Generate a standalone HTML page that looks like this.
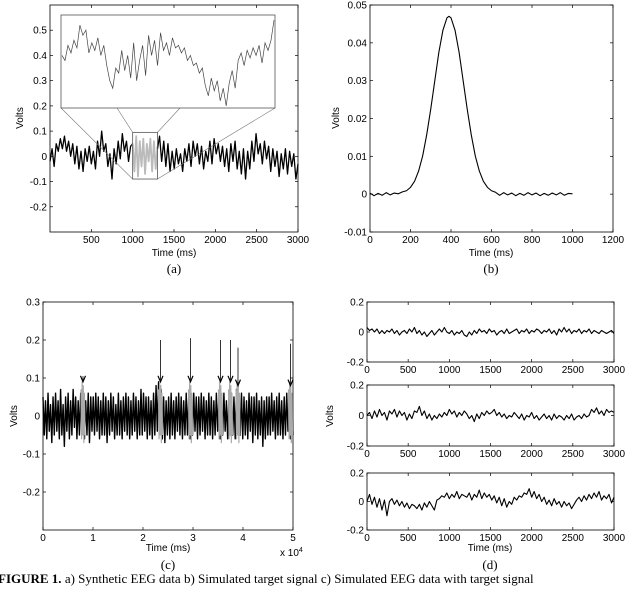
<!DOCTYPE html>
<html><head><meta charset="utf-8"><style>
html,body{margin:0;padding:0;background:#fff}
svg{display:block}
text{font-family:"Liberation Sans",sans-serif;font-size:10px;fill:#000}
.cap{font-family:"Liberation Serif",serif;font-size:13px}
</style></head><body>
<svg id="fig" width="640" height="591" viewBox="0 0 640 591" xmlns="http://www.w3.org/2000/svg">
<text class="cap" x="-2" y="583"><tspan font-weight="bold">FIGURE 1.</tspan> a)  Synthetic EEG data b) Simulated target signal c) Simulated EEG data with target signal</text>
</svg>
<script>
// ---- data ----
const aBlack1 = [-0.02,0.03,-0.04,0.05,0.02,0.07,0.03,0.08,0.02,0.06,0.0,0.05,-0.03,0.04,-0.05,0.02,-0.06,0.03,-0.02,0.04,-0.03,0.02,-0.05,0.06,0.0,0.1,0.02,0.05,-0.04,0.01,-0.09,0.03,-0.03,0.06,-0.01,0.09,0.02,0.06,-0.02,0.04,0.05];
const aGray = [0.05,-0.06,0.08,-0.08,0.06,-0.04,0.07,-0.07,0.05,-0.02,0.07,-0.06,0.06,-0.05,0.04];
const aBlack2 = [0.03,0.08,-0.02,0.06,-0.04,0.05,-0.06,0.02,-0.05,0.03,-0.03,0.01,-0.06,0.03,-0.02,0.05,-0.04,0.06,0.0,0.05,-0.03,0.04,-0.05,0.02,-0.02,0.06,-0.03,0.07,0.01,0.05,-0.02,0.04,-0.04,0.03,-0.06,0.05,-0.02,0.06,-0.05,0.02,-0.07,0.03,-0.09,0.02,-0.05,0.06,-0.02,0.09,0.01,0.05,-0.03,0.06,-0.01,0.04,-0.06,0.03,-0.04,0.02,-0.08,0.01,-0.05,0.03,-0.07,0.02,-0.04,0.01,-0.09,-0.03];
const aInset = [0.4,0.38,0.44,0.41,0.46,0.43,0.52,0.48,0.5,0.41,0.45,0.42,0.47,0.4,0.44,0.36,0.3,0.27,0.35,0.33,0.42,0.34,0.4,0.31,0.45,0.3,0.38,0.44,0.32,0.48,0.4,0.46,0.36,0.49,0.42,0.45,0.4,0.47,0.43,0.44,0.41,0.43,0.38,0.4,0.36,0.37,0.33,0.35,0.28,0.24,0.31,0.26,0.3,0.22,0.27,0.2,0.29,0.34,0.27,0.38,0.41,0.36,0.42,0.39,0.43,0.4,0.44,0.37,0.45,0.42,0.46,0.54];
const aXTicks = [500,1000,1500,2000,2500,3000];
const aYTicks = [-0.2,-0.1,0,0.1,0.2,0.3,0.4,0.5];

const bT = [0,20,40,60,80,100,120,140,160,180,200,220,240,260,280,300,320,340,360,380,390,400,420,440,460,480,500,520,540,560,580,600,620,640,660,680,700,720,740,760,780,800,820,840,860,880,900,920,940,960,980,1000];
const bV = [0.0003,-0.0004,0.0002,-0.0003,0.0004,-0.0002,0.0003,0.0001,0.0006,0.0009,0.0018,0.0034,0.0061,0.0101,0.0157,0.0225,0.030,0.0375,0.0433,0.0466,0.047,0.0466,0.0433,0.0375,0.030,0.0225,0.0157,0.0101,0.0061,0.0034,0.0018,0.0009,0.0005,-0.0003,0.0004,-0.0002,0.0003,-0.0004,0.0002,-0.0003,0.0004,-0.0002,0.0003,-0.0004,0.0002,-0.0003,0.0003,-0.0002,0.0004,-0.0003,0.0002,0.0001];
const bXTicks = [0,200,400,600,800,1000,1200];
const bYTicks = [-0.01,0,0.01,0.02,0.03,0.04,0.05];

const cVals = [0.05,-0.05,0.04,-0.06,0.06,-0.04,0.03,-0.07,0.05,-0.05,0.06,-0.04,0.04,-0.06,0.07,-0.05,0.03,-0.08,0.05,-0.04,0.06,-0.06,0.04,-0.05,0.07,-0.03,0.05,-0.06,0.04,-0.05,0.06,-0.04,0.05,-0.06,0.04,-0.05,0.06,-0.07,0.05,-0.04,0.05,-0.05,0.06,-0.04,0.05,-0.06,0.04,-0.05,0.06,-0.05,0.05,-0.07,0.04,-0.05,0.06,-0.04,0.05,-0.06,0.03,-0.05,0.06,-0.05,0.04,-0.06,0.05,-0.04,0.06,-0.05,0.05,-0.06,0.04,-0.05,0.06,-0.04,0.05,-0.06,0.04,-0.05,0.07,-0.05,0.06,-0.04,0.05,-0.06,0.05,-0.05,0.04,-0.06,0.06,-0.05,0.08,-0.04,0.09,-0.03,0.07,-0.06,0.05,-0.07,0.04,-0.05,0.05,-0.06,0.06,-0.05,0.04,-0.06,0.05,-0.04,0.06,-0.05,0.05,-0.06,0.04,-0.05,0.06,-0.05,0.05,-0.06,0.04,-0.05,0.06,-0.04,0.05,-0.06,0.05,-0.05,0.06,-0.04,0.05,-0.06,0.04,-0.05,0.06,-0.05,0.05,-0.06,0.04,-0.05,0.06,-0.04,0.05,-0.06,0.05,-0.05,0.06,-0.04,0.04,-0.06,0.05,-0.05,0.06,-0.05,0.05,-0.06,0.07,-0.04,0.05,-0.05,0.06,-0.06,0.05,-0.05,0.04,-0.06,0.06,-0.04,0.05,-0.07,0.05,-0.05,0.06,-0.06,0.04,-0.05,0.05,-0.08,0.04,-0.06,0.05,-0.05,0.05,-0.05,0.06,-0.04,0.04,-0.06,0.05,-0.05,0.06,-0.05,0.04,-0.06,0.05,-0.05,0.06,-0.04,0.05,-0.06,0.04,-0.05];
const cGrayPos = [0.8,2.35,2.95,3.55,3.75,3.9,4.95];
const cGrayVals = [0.07,-0.06,0.09,-0.05,0.08,-0.07,0.06,-0.05];
const cArrowTop = [0.105,0.2,0.205,0.2,0.2,0.18,0.19];
const cArrowTip = [0.09,0.09,0.09,0.09,0.09,0.08,0.08];
const cXTicks = [0,1,2,3,4,5];
const cYTicks = [-0.2,-0.1,0,0.1,0.2,0.3];

const d1 = [0.03,0.01,0.02,0.0,0.02,-0.01,0.01,-0.01,0.01,0.0,0.02,-0.01,0.01,-0.02,0.0,0.01,-0.01,0.02,0.0,0.03,-0.01,0.01,-0.02,0.0,-0.03,-0.01,0.01,-0.02,0.0,0.02,0.0,0.03,0.0,-0.01,0.01,-0.02,0.0,-0.01,0.01,-0.02,-0.03,0.0,-0.02,0.01,-0.01,0.02,0.0,0.01,-0.01,0.02,0.0,0.01,-0.02,0.0,0.01,-0.01,0.02,-0.01,0.0,0.01,0.02,-0.01,0.01,0.0,0.02,-0.01,0.01,0.0,0.02,0.01,-0.01,0.01,0.0,0.02,-0.01,0.01,-0.02,0.02,0.0,0.03,0.0,0.02,-0.01,0.01,0.0,0.02,-0.01,0.01,0.0,0.02,-0.01,0.01,0.0,-0.01,0.01,0.0,-0.01,0.0,0.01,-0.01];
const d2 = [0.0,0.02,-0.02,0.03,-0.01,0.04,0.0,0.02,-0.03,0.03,0.01,0.04,-0.01,0.03,0.0,0.02,-0.03,0.01,-0.02,0.03,0.02,0.06,0.0,0.03,-0.02,0.01,-0.03,0.0,-0.02,0.01,-0.01,0.02,0.0,0.04,0.01,0.03,-0.01,0.02,0.0,0.03,0.01,-0.02,0.0,-0.04,0.01,-0.02,0.02,0.0,0.03,0.01,0.02,0.04,0.0,0.02,-0.01,0.01,-0.02,0.0,-0.01,0.02,0.0,-0.02,0.01,-0.03,0.0,-0.01,0.02,-0.02,0.0,-0.03,-0.01,0.01,-0.02,0.0,-0.03,0.01,-0.02,0.0,-0.01,-0.03,0.0,-0.02,0.01,-0.03,-0.01,0.0,-0.02,0.01,-0.01,0.0,0.04,0.02,0.05,0.01,0.03,0.0,0.04,0.02,0.03,0.02];
const d3 = [0.0,0.05,-0.02,0.03,-0.04,0.02,-0.06,0.01,-0.1,0.0,0.02,-0.02,0.01,-0.03,0.0,-0.04,-0.01,-0.05,-0.02,-0.03,-0.05,-0.02,-0.06,-0.01,-0.04,0.0,-0.03,-0.06,0.01,0.02,0.04,0.03,0.06,0.02,0.05,0.03,0.07,0.02,0.05,0.04,0.03,0.06,0.01,0.05,0.03,0.08,0.02,0.06,0.03,0.05,0.01,0.04,-0.01,0.03,-0.03,0.02,-0.04,0.0,-0.02,0.03,0.01,0.04,0.03,0.06,0.05,0.09,0.03,0.07,0.02,0.05,0.0,0.03,-0.02,0.01,-0.03,0.02,-0.02,0.0,-0.04,0.0,-0.03,-0.01,-0.05,-0.02,0.01,0.03,0.0,0.04,0.01,0.05,0.02,0.06,0.03,0.07,0.01,0.04,0.02,0.05,-0.01,0.03];
const dXTicks = [0,500,1000,1500,2000,2500,3000];
const dYTicks = [-0.2,0,0.2];

// ---- helpers ----
const NS = "http://www.w3.org/2000/svg";
const svg = document.getElementById('fig');
function el(tag, attrs, parent) {
  const e = document.createElementNS(NS, tag);
  for (const k in attrs) e.setAttribute(k, attrs[k]);
  (parent || svg).appendChild(e);
  return e;
}
function scale(d0, d1, r0, r1) { return v => r0 + (v - d0) / (d1 - d0) * (r1 - r0); }
function fmt(v) { return String(Math.round(v * 1000) / 1000); }
function axes(name, box, xd, yd, xt, yt, opts) {
  const g = el('g', {});
  
  
  const sx = scale(xd[0], xd[1], box.x0, box.x1), sy = scale(yd[0], yd[1], box.y1, box.y0);
  const fr = el('rect', {x: box.x0, y: box.y0, width: box.x1 - box.x0, height: box.y1 - box.y0, fill: 'none', stroke: '#000', 'stroke-width': 0.8}, g);
  
  
  xt.forEach(v => {
    const x = sx(v);
    el('line', {x1: x, x2: x, y1: box.y1, y2: box.y1 - 3, stroke: '#000', 'stroke-width': 0.7}, g);
    el('line', {x1: x, x2: x, y1: box.y0, y2: box.y0 + 3, stroke: '#000', 'stroke-width': 0.7}, g);
    const t = el('text', {x: x, y: box.y1 + 11, 'text-anchor': 'middle'}, g);
    t.textContent = fmt(v);
    
    
  });
  yt.forEach(v => {
    const y = sy(v);
    el('line', {x1: box.x0, x2: box.x0 + 3, y1: y, y2: y, stroke: '#000', 'stroke-width': 0.7}, g);
    el('line', {x1: box.x1, x2: box.x1 - 3, y1: y, y2: y, stroke: '#000', 'stroke-width': 0.7}, g);
    const t = el('text', {x: box.x0 - 3, y: y + 3.5, 'text-anchor': 'end'}, g);
    t.textContent = fmt(v);
    
    
  });
  return {sx, sy, g};
}
function line(ax, xs, ys, color, name, w) {
  const pts = xs.map((x, i) => ax.sx(x).toFixed(2) + ',' + ax.sy(ys[i]).toFixed(2)).join(' ');
  const p = el('polyline', {points: pts, fill: 'none', stroke: color, 'stroke-width': w || 0.9, 'stroke-linejoin': 'round'}, ax.g);
  
  
  return p;
}
function span(a, b, n) { return Array.from({length: n}, (_, i) => a + (b - a) * i / (n - 1)); }
function label(txt, x, y, name, cls, rot) {
  const t = el('text', {x: x, y: y, 'text-anchor': 'middle'});
  if (cls) t.setAttribute('class', cls);
  if (rot) t.setAttribute('transform', 'rotate(-90 ' + x + ' ' + y + ')');
  t.textContent = txt;
  
  
  return t;
}

// ---- panel a ----
const A = axes('panel-a', {x0: 50, x1: 298, y0: 5, y1: 232}, [0, 3000], [-0.3, 0.6], aXTicks, aYTicks, {});
line(A, span(0, 1000, aBlack1.length), aBlack1, '#000', 'eeg-signal-part1', 1.3);
line(A, span(1000, 1300, aGray.length), aGray, '#bbb', 'target-segment', 1.8);
line(A, span(1300, 3000, aBlack2.length), aBlack2, '#000', 'eeg-signal-part2', 1.3);
const zb = {x0: A.sx(1000), x1: A.sx(1300), y0: A.sy(0.095), y1: A.sy(-0.09)};
const ins = {x0: 61, x1: 275, y0: 15, y1: 108};
[[ins.x0, ins.y1, zb.x0, zb.y1], [117, ins.y1, zb.x0, zb.y0], [180, ins.y1, zb.x1, zb.y0], [ins.x1, ins.y1, zb.x1, zb.y1]].forEach(c => {
  const l = el('line', {x1: c[0], y1: c[1], x2: c[2], y2: c[3], stroke: '#777', 'stroke-width': 0.6}, A.g);
  
  
});
const zr = el('rect', {x: zb.x0, y: zb.y0, width: zb.x1 - zb.x0, height: zb.y1 - zb.y0, fill: 'none', stroke: '#555', 'stroke-width': 0.8}, A.g);


const ir = el('rect', {x: ins.x0, y: ins.y0, width: ins.x1 - ins.x0, height: ins.y1 - ins.y0, fill: '#fff', stroke: '#555', 'stroke-width': 0.8}, A.g);


const insX = scale(1000, 1300, ins.x0 + 1, ins.x1 - 1);
const inPts = aInset.map((v, i) => insX(1000 + 300 * i / (aInset.length - 1)).toFixed(2) + ',' + A.sy(v).toFixed(2)).join(' ');
const ip = el('polyline', {points: inPts, fill: 'none', stroke: '#444', 'stroke-width': 0.7}, A.g);


label('Time (ms)', 174, 256, 'x-axis-title-a');
label('Volts', 23, 118, 'y-axis-title-a', null, true);
label('(a)', 174, 273, 'panel-label-a', 'cap');

// ---- panel b ----
const B = axes('panel-b', {x0: 370, x1: 613, y0: 5, y1: 232}, [0, 1200], [-0.01, 0.05], bXTicks, bYTicks, {});
line(B, bT, bV, '#000', 'target-signal', 1.1);
label('Time (ms)', 491, 256, 'x-axis-title-b');
label('Volts', 339, 118, 'y-axis-title-b', null, true);
label('(b)', 491, 273, 'panel-label-b', 'cap');

// ---- panel c ----
const C = axes('panel-c', {x0: 43, x1: 293, y0: 302, y1: 530}, [0, 5], [-0.3, 0.3], cXTicks, cYTicks, {});
line(C, span(0, 5, cVals.length), cVals, '#000', 'eeg-with-targets', 1.4);
cGrayPos.forEach((p, k) => {
  line(C, span(p - 0.04, p + 0.04, cGrayVals.length), cGrayVals, '#aaa', 'target-segment-' + k, 1.2);
  const x = C.sx(p), y0 = C.sy(cArrowTop[k]), y1 = C.sy(cArrowTip[k]);
  const ar = el('g', {}, C.g);
  
  
  el('line', {x1: x, x2: x, y1: y0, y2: y1, stroke: '#000', 'stroke-width': 0.8}, ar);
  el('polyline', {points: (x - 2.5) + ',' + (y1 - 6) + ' ' + x + ',' + y1 + ' ' + (x + 2.5) + ',' + (y1 - 6), fill: 'none', stroke: '#000', 'stroke-width': 1.2}, ar);
});
label('Time (ms)', 168, 551, 'x-axis-title-c');
label('Volts', 17, 416, 'y-axis-title-c', null, true);
const ex = el('text', {x: 280, y: 556});
ex.innerHTML = 'x 10<tspan dy="-4" font-size="7">4</tspan>';


label('(c)', 168, 569, 'panel-label-c', 'cap');

// ---- panel d ----
const dBoxes = [{y0: 302, y1: 362}, {y0: 385, y1: 446}, {y0: 473, y1: 530}];
const dSeries = [d1, d2, d3];
dBoxes.forEach((bx, k) => {
  const D = axes('panel-d-' + (k + 1), {x0: 367, x1: 614, y0: bx.y0, y1: bx.y1}, [0, 3000], [-0.2, 0.2], dXTicks, dYTicks, {});
  line(D, span(0, 3000, dSeries[k].length), dSeries[k], '#000', 'eeg-channel-' + (k + 1), 1.1);
});
label('Time (ms)', 490, 551, 'x-axis-title-d');
label('Volts', 333, 416, 'y-axis-title-d', null, true);
label('(d)', 490, 569, 'panel-label-d', 'cap');
</script>
</body></html>
